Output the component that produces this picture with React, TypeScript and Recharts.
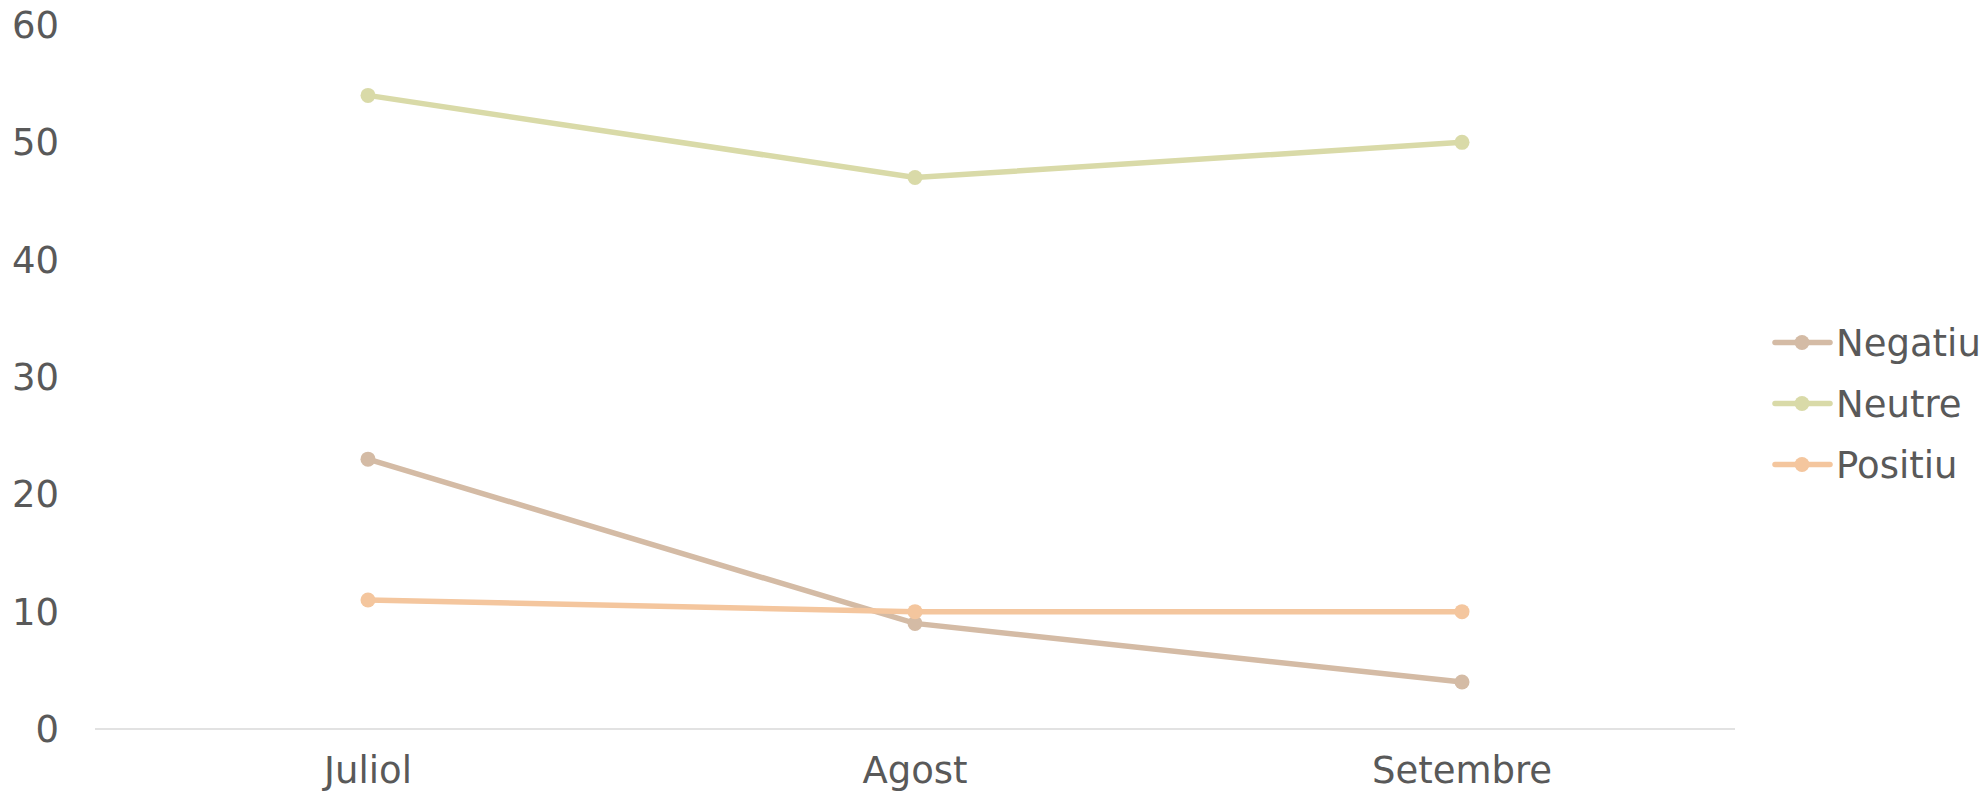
import React from 'react';
import { LineChart, Line, XAxis, YAxis, Legend } from 'recharts';

const categories = ['Juliol', 'Agost', 'Setembre'];
const negatiu = [23, 9, 4];
const neutre = [54, 47, 50];
const positiu = [11, 10, 10];
const yTicks = [0, 10, 20, 30, 40, 50, 60];

const seriesInfo = [
  { key: 'Negatiu', color: '#D4BBA5' },
  { key: 'Neutre', color: '#D9DAA8' },
  { key: 'Positiu', color: '#F4C69E' },
];

const data = categories.map((name, i) => ({
  name,
  Negatiu: negatiu[i],
  Neutre: neutre[i],
  Positiu: positiu[i],
}));

const FONT = '"DejaVu Sans", sans-serif';
const TEXT = '#595959';

const LegendContent = () => (
  <svg width={218} height={183} style={{ display: 'block', overflow: 'visible' }}>
    {seriesInfo.map((s, i) => {
      const cy = 30.5 + i * 61;
      return (
        <g key={s.key}>
          <line x1={5} x2={60} y1={cy} y2={cy} stroke={s.color} strokeWidth={5.5} strokeLinecap="round" />
          <circle cx={32} cy={cy} r={7.5} fill={s.color} />
          <text x={66} y={cy} dy="0.36em" fontFamily={FONT} fontSize={37} fill={TEXT}>
            {s.key}
          </text>
        </g>
      );
    })}
  </svg>
);

export default function App() {
  return (
    <div style={{ position: 'absolute', left: 0, top: 0, width: 1988, height: 794, background: '#fff' }}>
      <LineChart width={1988} height={794} data={data} margin={{ top: 25, right: 35, bottom: 35, left: 0 }}>
        <XAxis
          dataKey="name"
          scale="point"
          height={30}
          padding={{ left: 273, right: 273 }}
          axisLine={{ stroke: '#D9D9D9', strokeWidth: 1.5 }}
          tickLine={false}
          tickSize={0}
          tickMargin={28}
          tick={{ fill: TEXT, fontSize: 37, fontFamily: FONT }}
        />
        <YAxis
          domain={[0, 60]}
          ticks={yTicks}
          width={95}
          axisLine={false}
          tickLine={false}
          tickSize={0}
          tickMargin={36}
          tick={{ fill: TEXT, fontSize: 37, fontFamily: FONT }}
        />
        <Legend
          layout="vertical"
          align="right"
          verticalAlign="top"
          content={<LegendContent />}
          wrapperStyle={{ position: 'absolute', left: 1770, top: 312, width: 218, height: 183 }}
        />
        {seriesInfo.map((s) => (
          <Line
            key={s.key}
            type="linear"
            dataKey={s.key}
            stroke={s.color}
            strokeWidth={5.5}
            dot={{ r: 7.5, fill: s.color, stroke: s.color, strokeWidth: 0 }}
            activeDot={false}
            isAnimationActive={false}
          />
        ))}
      </LineChart>
    </div>
  );
}
